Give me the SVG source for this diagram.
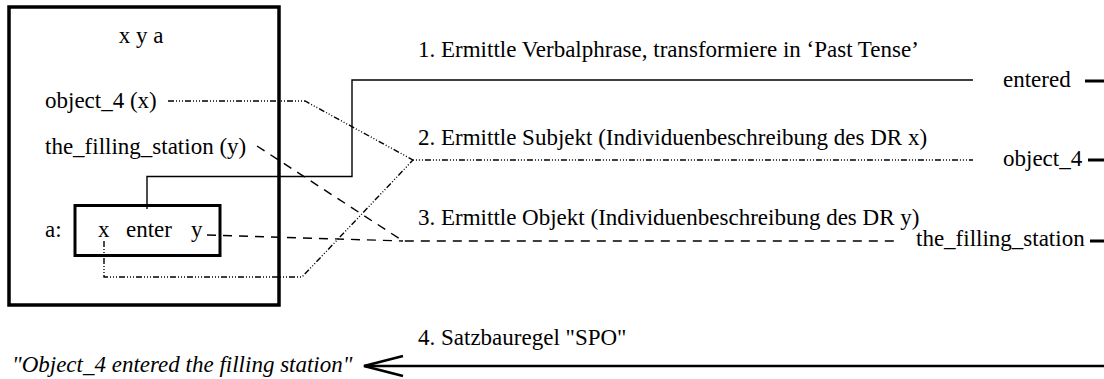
<svg xmlns="http://www.w3.org/2000/svg" width="1104" height="379" viewBox="0 0 1104 379" font-family="'Liberation Serif', Tinos, 'Nimbus Roman', 'Times New Roman', Times, serif">
  <style>
    text { font-family: 'Liberation Serif', Tinos, 'Nimbus Roman', 'Times New Roman', Times, serif; font-size: 23px; fill: #000; }
    .it { font-style: italic; }
    .box { fill: none; stroke: #000; }
    .ln { fill: none; stroke: #000; stroke-width: 1.4; }
    .dash { stroke-dasharray: 9 7; }
    .dd { stroke-dasharray: 6 2 1 2 1 2 1 2; }
    .tick { stroke: #000; stroke-width: 3; }
    .head { fill: none; stroke: #000; stroke-width: 2.5; }
  </style>

  <!-- DRS box -->
  <g id="drs">
    <rect class="box" x="9" y="7" width="270" height="298" stroke-width="3.5"/>
    <text x="141" y="43" text-anchor="middle">x y a</text>
    <text x="45" y="108">object_4 (x)</text>
    <text x="45" y="154">the_filling_station (y)</text>
    <text x="45" y="237">a:</text>
  </g>

  <!-- predicate box -->
  <g id="predicate">
    <rect class="box" x="75" y="205.5" width="145" height="50" stroke-width="3"/>
    <text x="98" y="237">x</text>
    <text x="126" y="237">enter</text>
    <text x="191" y="237">y</text>
  </g>

  <!-- step labels -->
  <g id="steps">
    <text x="418" y="57">1. Ermittle Verbalphrase, transformiere in ‘Past Tense’</text>
    <text x="418" y="145">2. Ermittle Subjekt (Individuenbeschreibung des DR x)</text>
    <text x="418" y="225">3. Ermittle Objekt (Individuenbeschreibung des DR y)</text>
    <text x="418" y="345">4. Satzbauregel "SPO"</text>
  </g>

  <!-- output words -->
  <g id="out-entered">
    <text x="1003" y="87">entered</text>
    <line class="tick" x1="1085" y1="81" x2="1104" y2="81"/>
  </g>
  <g id="out-object">
    <text x="1003" y="166">object_4</text>
    <line class="tick" x1="1088" y1="160" x2="1104" y2="160"/>
  </g>
  <g id="out-station">
    <text x="916" y="246">the_filling_station</text>
    <line class="tick" x1="1090" y1="241" x2="1104" y2="241"/>
  </g>

  <!-- resulting sentence -->
  <g id="sentence">
    <text class="it" x="12" y="372">"Object_4 entered the filling station"</text>
  </g>

  <!-- connectors -->
  <g id="connectors">
    <!-- verb -->
    <polyline class="ln" points="147,209 147,176.5 352,176.5 352,80 973,80"/>
    <!-- subject -->
    <polyline class="ln dd" points="168,101 305,101 413,160 973,160"/>
    <polyline class="ln dd" points="104,241 104,277 302,277 413,160"/>
    <!-- object -->
    <polyline class="ln dash" points="257,146 403,241 900,241"/>
    <polyline class="ln dash" points="207,235 403,241"/>
    <!-- sentence rule, open head on the left -->
    <line x1="1104" y1="366" x2="364" y2="366" stroke="#000" stroke-width="2.5"/>
    <polyline class="head" points="403,356 364,366 403,376"/>
  </g>
</svg>
